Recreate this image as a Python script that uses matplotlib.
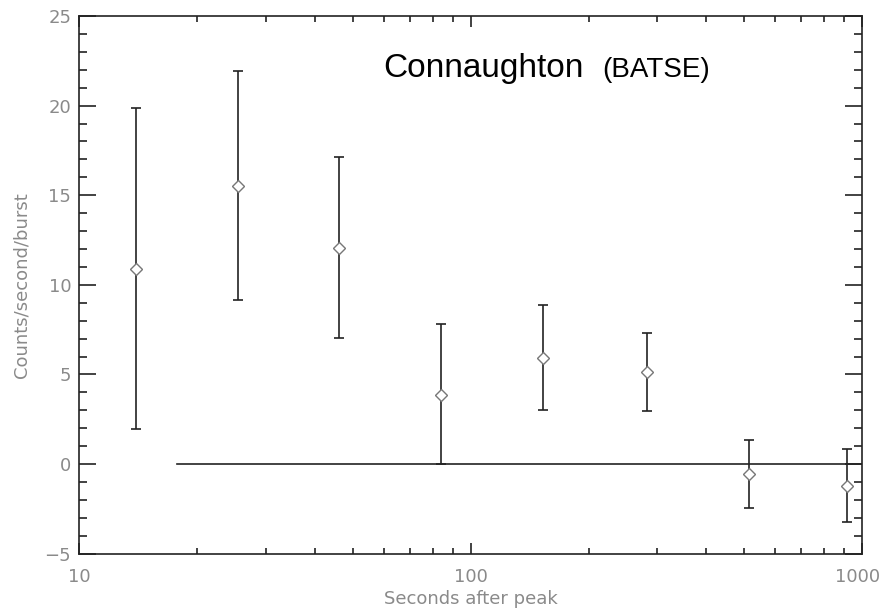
import numpy as np
import matplotlib.pyplot as plt
import matplotlib.transforms as mtransforms
from matplotlib.ticker import FixedLocator, MultipleLocator, NullFormatter

# values
seconds = [13.95, 25.4, 46.1, 84.0, 153, 282, 514, 914]
rate = [10.9, 15.54, 12.07, 3.88, 5.93, 5.11, -0.54, -1.21]
err_hi = [19.85, 21.92, 17.12, 7.8, 8.88, 7.3, 1.37, 0.82]
err_lo = [1.94, 9.16, 7.05, 0.0, 3.0, 2.95, -2.44, -3.25]
zero_x = [17.8, 1000]
zero_y = [0, 0]

rate = np.array(rate)
yerr = [rate - np.array(err_lo), np.array(err_hi) - rate]

fig = plt.figure(figsize=(8.82, 6.08), dpi=100)
ax = fig.add_axes([0.0901, 0.0893, 0.8872, 0.8844])

ax.errorbar(seconds, rate, yerr=yerr, fmt="none", ecolor="#222222",
            elinewidth=1.2, capsize=3.6, capthick=1.2)
ax.plot(seconds, rate, "D", ms=6.5, mfc="white", mec="#777777", mew=1.0)
ax.plot(zero_x, zero_y, color="#222222", lw=1.2)

ax.set_xscale("log")
ax.set_xlim(10, 1000)
ax.set_ylim(-5, 25)

ax.xaxis.set_major_locator(FixedLocator([10, 100, 1000]))
ax.xaxis.set_minor_locator(FixedLocator([k * d for d in (10, 100) for k in range(2, 10)]))
ax.xaxis.set_minor_formatter(NullFormatter())
ax.set_xticklabels(["10", "100", "1000"])
ax.yaxis.set_major_locator(MultipleLocator(5))
ax.yaxis.set_minor_locator(MultipleLocator(1))

ax.tick_params(which="both", direction="in", top=True, right=True,
               color="#222222", labelcolor="#8a8a8a", labelsize=13)
ax.tick_params(axis="y", which="major", length=12, width=1.2, pad=6)
ax.tick_params(axis="y", which="minor", length=5.5, width=1.2)
ax.tick_params(axis="x", which="major", length=8, width=1.2, pad=10)
ax.tick_params(axis="x", which="minor", length=4.5, width=1.2)
for s in ax.spines.values():
    s.set_color("#222222")
    s.set_linewidth(1.2)

# nudge the last x label so it stays inside the figure
last = ax.get_xticklabels()[-1]
last.set_transform(last.get_transform() +
                   mtransforms.ScaledTranslation(-4 / 100, 0, fig.dpi_scale_trans))

ax.set_xlabel("Seconds after peak", color="#8a8a8a", fontsize=13, labelpad=3)
ax.set_ylabel("Counts/second/burst", color="#8a8a8a", fontsize=13, labelpad=10)

fig.text(0.434, 0.874, "Connaughton", fontsize=24, family="Liberation Sans",
         color="black", ha="left", va="baseline")
fig.text(0.683, 0.874, "(BATSE)", fontsize=20, family="Liberation Sans",
         color="black", ha="left", va="baseline")

fig.savefig("out.png", dpi=100)
